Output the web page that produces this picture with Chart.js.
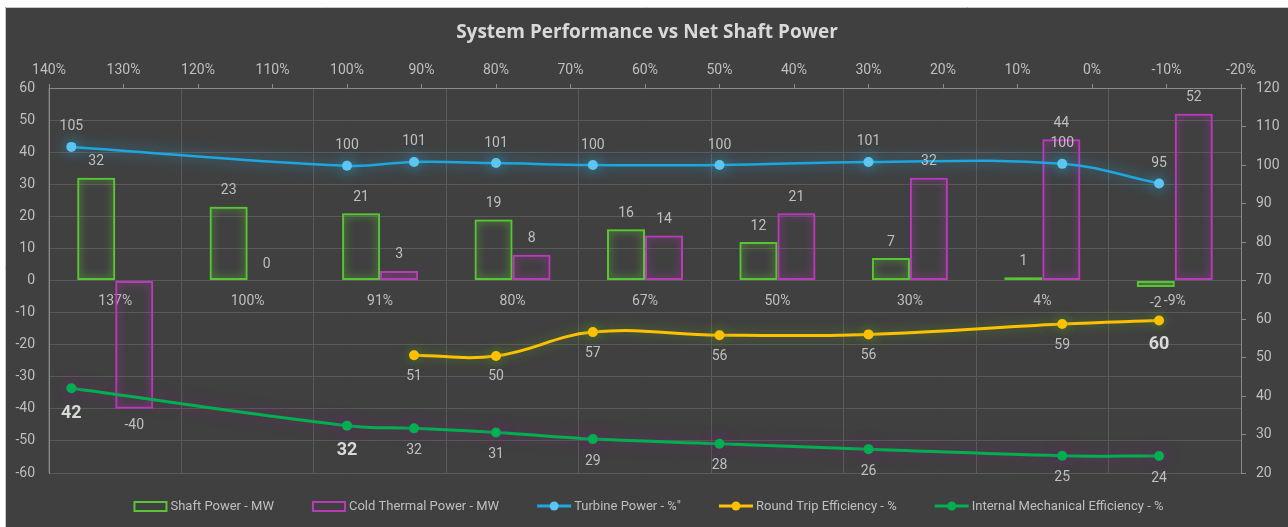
<!DOCTYPE html>
<html>
<head>
<meta charset="utf-8">
<title>System Performance vs Net Shaft Power</title>
<script src="https://cdn.jsdelivr.net/npm/chart.js@4.4.1/dist/chart.umd.min.js"></script>
<style>
  html, body { margin: 0; padding: 0; background: #ffffff; overflow: hidden; }
  #chart { display: block; }
</style>
</head>
<body>
<canvas id="chart" width="1288" height="527"></canvas>
<script>
// categories on the bar axis and matching x values (net shaft power %) for the lines
const categories = ["137%", "100%", "91%", "80%", "67%", "50%", "30%", "4%", "-9%"];
const netShaftPct = [137, 100, 91, 80, 67, 50, 30, 4, -9];

// bar series (left axis, MW)
const shaftPower = [32, 23, 21, 19, 16, 12, 7, 1, -2];
const coldThermalPower = [-40, 0, 3, 8, 14, 21, 32, 44, 52];

// line series (right axis, %)
const turbinePower = [104.7, 99.8, 100.8, 100.5, 100, 100, 100.8, 100.3, 95.2];
const roundTripEff = [null, null, 50.6, 50.4, 56.6, 55.8, 56, 58.7, 59.6];
const internalMechEff = [42, 32.3, 31.6, 30.5, 28.8, 27.6, 26.2, 24.5, 24.4];

const FONT = "Roboto";
const TEXT = "#bfbfbf";

function points(values) {
  return netShaftPct.map((x, i) => ({ x: x, y: values[i] }));
}

// background + frame, title and legend
const framePlugin = {
  id: "frame",
  beforeDraw(chart) {
    const c = chart.ctx;
    c.save();
    c.fillStyle = "#ffffff";
    c.fillRect(0, 0, chart.width, chart.height);
    c.fillStyle = "#404040";
    c.fillRect(5, 7, chart.width - 5, chart.height - 7);
    c.strokeStyle = "#c8c8c8";
    c.lineWidth = 1;
    c.beginPath();
    c.moveTo(5.5, chart.height);
    c.lineTo(5.5, 7.5);
    c.lineTo(chart.width, 7.5);
    c.stroke();
    c.restore();
  },
  afterDraw(chart) {
    const c = chart.ctx;
    c.save();
    c.font = "bold 19px 'Open Sans'";
    c.fillStyle = "#d9d9d9";
    c.textAlign = "center";
    c.textBaseline = "middle";
    c.fillText("System Performance vs Net Shaft Power", 647, 33);

    // legend: bar series first, then lines
    c.font = "13px " + FONT;
    const sets = chart.data.datasets;
    const ordered = sets.filter(d => d.type === "bar").concat(sets.filter(d => d.type === "line"));
    const items = ordered.map(ds => ({
      ds: ds,
      w: 38 + c.measureText(ds.label).width
    }));
    const gap = 37;
    let total = items.reduce((s, it) => s + it.w, 0) + gap * (items.length - 1);
    let x = 649 - total / 2;
    const y = 506;
    items.forEach(it => {
      const ds = it.ds;
      if (ds.type === "line") {
        c.strokeStyle = ds.borderColor;
        c.lineWidth = 3;
        c.beginPath();
        c.moveTo(x, y);
        c.lineTo(x + 34, y);
        c.stroke();
        c.fillStyle = ds.pointBackgroundColor;
        c.beginPath();
        c.arc(x + 17, y, 4.5, 0, Math.PI * 2);
        c.fill();
      } else {
        c.strokeStyle = ds.borderColor;
        c.lineWidth = 2;
        c.strokeRect(x + 1, y - 4, 32, 9);
      }
      c.fillStyle = TEXT;
      c.textAlign = "left";
      c.fillText(ds.label, x + 37, y + 1);
      x += it.w + gap;
    });
    c.restore();
  }
};

// soft glow behind each series
const glowPlugin = {
  id: "glow",
  beforeDatasetDraw(chart, args) {
    const ds = chart.data.datasets[args.index];
    if (!ds.glowColor) return;
    chart.ctx.save();
    chart.ctx.shadowColor = ds.glowColor;
    chart.ctx.shadowBlur = ds.glowBlur;
  },
  afterDatasetDraw(chart, args) {
    const ds = chart.data.datasets[args.index];
    if (!ds.glowColor) return;
    chart.ctx.restore();
  }
};

// value labels
const labelPlugin = {
  id: "valueLabels",
  afterDatasetsDraw(chart) {
    const c = chart.ctx;
    chart.data.datasets.forEach((ds, i) => {
      const meta = chart.getDatasetMeta(i);
      meta.data.forEach((el, j) => {
        const raw = ds.data[j];
        const v = (raw !== null && typeof raw === "object") ? raw.y : raw;
        if (v === null || v === undefined) return;
        const bold = ds.boldAt && ds.boldAt.includes(j);
        let y;
        if (ds.type === "line") {
          y = el.y + ds.labelOffset + (bold ? 3 : 0);
        } else {
          y = v < 0 ? el.y + 17 : el.y - 16;
        }
        c.save();
        c.font = bold ? "bold 18px " + FONT : "14px " + FONT;
        c.fillStyle = bold ? "#d9d9d9" : TEXT;
        c.textAlign = "center";
        c.textBaseline = "middle";
        c.fillText(String(Math.round(v)), el.x, y);
        c.restore();
      });
    });
  }
};

const ctx = document.getElementById("chart").getContext("2d");

// Chart.js 4.4 splits each category between all x axes in use, so the line
// series (on x2) come first and the two bar slots land in the middle.
const BAR_CAT_PCT = 1.148;

new Chart(ctx, {
  type: "line",
  data: {
    labels: categories,
    datasets: [
      {
        type: "line",
        label: "Turbine Power - %\"",
        data: points(turbinePower),
        borderColor: "#1ea6de",
        borderWidth: 2.5,
        pointBackgroundColor: "#5cc6f2",
        pointBorderWidth: 0,
        pointRadius: 5,
        tension: 0.4,
        labelOffset: -20,
        glowColor: "rgba(40,180,240,0.8)",
        glowBlur: 14,
        xAxisID: "x2",
        yAxisID: "y2",
        order: 1
      },
      {
        type: "line",
        label: "Round Trip Efficiency - %",
        data: points(roundTripEff),
        borderColor: "#ffc000",
        borderWidth: 3,
        pointBackgroundColor: "#ffc000",
        pointBorderWidth: 0,
        pointRadius: 5,
        tension: 0.4,
        labelOffset: 21,
        boldAt: [8],
        glowColor: "rgba(90,150,30,0.8)",
        glowBlur: 12,
        xAxisID: "x2",
        yAxisID: "y2",
        order: 1
      },
      {
        type: "line",
        label: "Internal Mechanical Efficiency - %",
        data: points(internalMechEff),
        borderColor: "#00b050",
        borderWidth: 3,
        pointBackgroundColor: "#00b050",
        pointBorderWidth: 0,
        pointRadius: 5,
        tension: 0.4,
        labelOffset: 22,
        boldAt: [0, 1],
        glowColor: "rgba(120,30,120,0.8)",
        glowBlur: 14,
        xAxisID: "x2",
        yAxisID: "y2",
        order: 1
      },
      {
        type: "bar",
        label: "Shaft Power - MW",
        data: shaftPower,
        backgroundColor: "rgba(0,0,0,0)",
        borderColor: "#58c535",
        borderWidth: 2,
        borderSkipped: false,
        categoryPercentage: BAR_CAT_PCT,
        barPercentage: 1.0,
        glowColor: "rgba(100,220,50,0.95)",
        glowBlur: 9,
        xAxisID: "x",
        yAxisID: "y",
        order: 2
      },
      {
        type: "bar",
        label: "Cold Thermal Power - MW",
        data: coldThermalPower,
        backgroundColor: "rgba(0,0,0,0)",
        borderColor: "#b83bb8",
        borderWidth: 2,
        borderSkipped: false,
        categoryPercentage: BAR_CAT_PCT,
        barPercentage: 1.0,
        glowColor: "rgba(200,50,200,0.9)",
        glowBlur: 9,
        xAxisID: "x",
        yAxisID: "y",
        order: 2
      }
    ]
  },
  options: {
    responsive: false,
    animation: false,
    layout: { padding: { top: 58, bottom: 54, left: 0, right: 0 } },
    plugins: {
      legend: { display: false },
      title: { display: false },
      tooltip: { enabled: false }
    },
    scales: {
      x: {
        type: "category",
        position: { y: 0 },
        offset: true,
        grid: { color: "#5a5a5a", offset: true, drawTicks: false },
        border: { display: false },
        ticks: { color: TEXT, font: { family: FONT, size: 14 }, padding: 13, maxRotation: 0 }
      },
      x2: {
        type: "linear",
        position: "top",
        reverse: true,
        offset: false,
        min: -20,
        max: 140,
        grid: { drawOnChartArea: false, drawTicks: true, tickLength: 4, color: "#8a8a8a", offset: false },
        border: { display: true, color: "#8a8a8a" },
        ticks: {
          stepSize: 10,
          color: TEXT,
          font: { family: FONT, size: 14 },
          padding: 5,
          callback: v => v + "%"
        },
        afterFit: s => { s.height = 30; }
      },
      y: {
        type: "linear",
        position: "left",
        min: -60,
        max: 60,
        grid: { color: "#5a5a5a", drawTicks: false },
        border: { display: true, color: "#8a8a8a" },
        ticks: { stepSize: 10, color: TEXT, font: { family: FONT, size: 14 }, padding: 14 },
        afterFit: s => { s.width = 49; }
      },
      y2: {
        type: "linear",
        position: "right",
        min: 20,
        max: 120,
        grid: { drawOnChartArea: false, drawTicks: true, tickLength: 5, color: "#8a8a8a" },
        border: { display: true, color: "#8a8a8a" },
        ticks: { stepSize: 10, color: TEXT, font: { family: FONT, size: 14 }, padding: 10 },
        afterFit: s => { s.width = 47; }
      }
    }
  },
  plugins: [framePlugin, glowPlugin, labelPlugin]
});
</script>
</body>
</html>
